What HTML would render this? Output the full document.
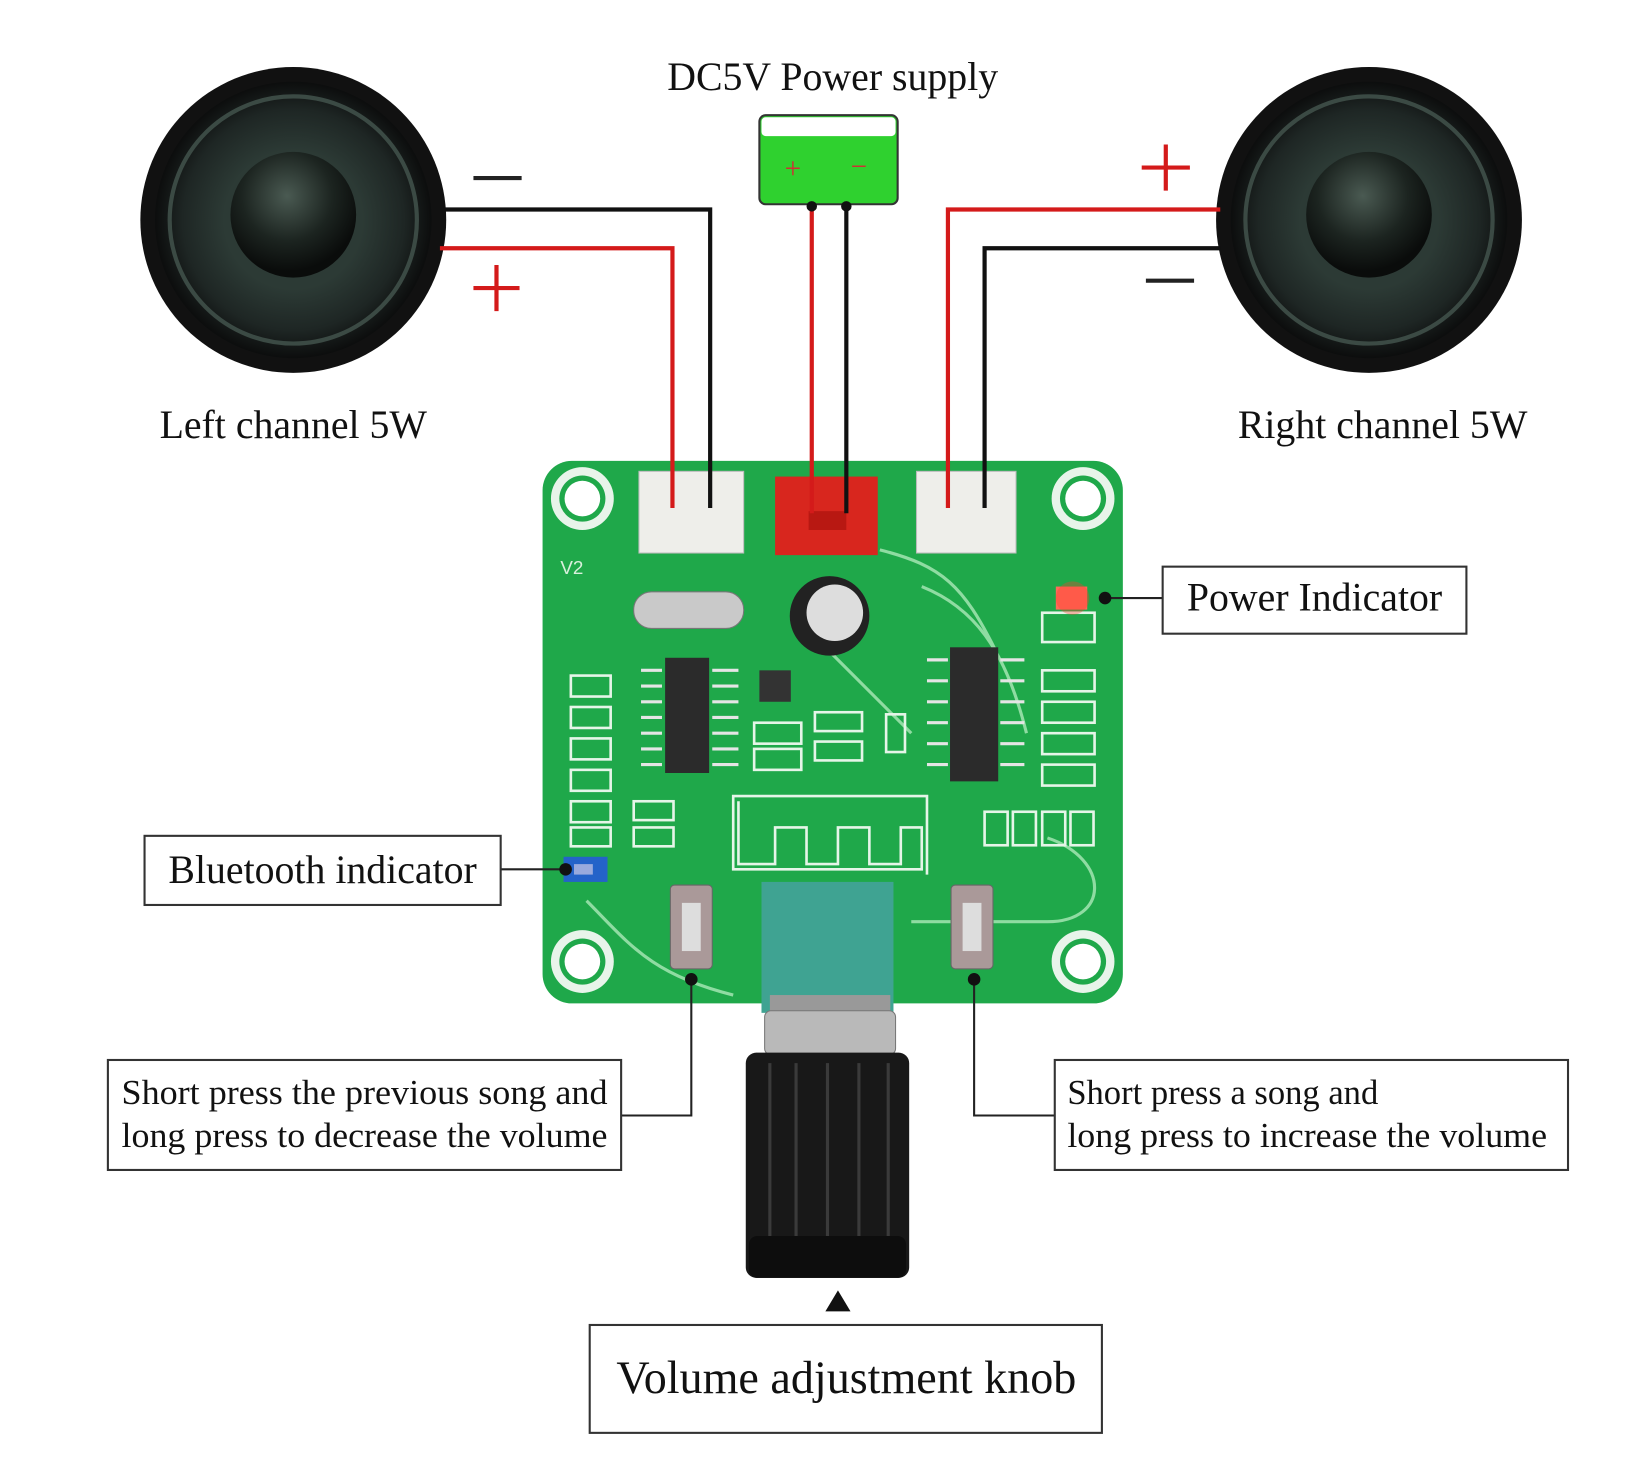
<!DOCTYPE html>
<html><head><meta charset="utf-8"><style>
html,body{margin:0;padding:0;background:#fff;width:1634px;height:1458px;overflow:hidden}
svg{display:block}
text{font-family:"Liberation Serif",serif;fill:#111}
</style></head><body>
<svg width="1634" height="1458" viewBox="0 0 1560 1392" preserveAspectRatio="none" xmlns="http://www.w3.org/2000/svg">
<defs>
<radialGradient id="spk" cx="50%" cy="50%" r="50%">
<stop offset="0" stop-color="#2a3a34"/><stop offset="0.5" stop-color="#2c3a35"/><stop offset="0.8" stop-color="#1e2624"/><stop offset="1" stop-color="#0c0d0d"/>
</radialGradient>
<radialGradient id="dome" cx="45%" cy="35%" r="60%">
<stop offset="0" stop-color="#4a5a52"/><stop offset="0.6" stop-color="#1c2420"/><stop offset="1" stop-color="#0a0c0b"/>
</radialGradient>
</defs>
<rect width="1560" height="1392" fill="#fff"/>

<g>
<circle cx="280" cy="210" r="146" fill="#111"/>
<circle cx="280" cy="210" r="132" fill="url(#spk)"/>
<circle cx="280" cy="210" r="118" fill="none" stroke="#3b4a44" stroke-width="4"/>
<circle cx="280" cy="205" r="60" fill="url(#dome)"/>
<circle cx="1307" cy="210" r="146" fill="#111"/>
<circle cx="1307" cy="210" r="132" fill="url(#spk)"/>
<circle cx="1307" cy="210" r="118" fill="none" stroke="#3b4a44" stroke-width="4"/>
<circle cx="1307" cy="205" r="60" fill="url(#dome)"/>
</g>

<g stroke-width="4">
<line x1="452" y1="170" x2="498" y2="170" stroke="#222"/>
<line x1="452" y1="275" x2="496" y2="275" stroke="#d41a1a"/><line x1="474" y1="253" x2="474" y2="297" stroke="#d41a1a"/>
<line x1="1090" y1="160" x2="1136" y2="160" stroke="#d41a1a"/><line x1="1113" y1="138" x2="1113" y2="182" stroke="#d41a1a"/>
<line x1="1094" y1="268" x2="1140" y2="268" stroke="#222"/>
</g>

<rect x="725" y="110" width="132" height="85" rx="6" fill="#2fd12f" stroke="#333" stroke-width="2"/>
<rect x="727" y="112" width="128" height="18" rx="4" fill="#fff"/>
<text x="757" y="170" font-size="28" text-anchor="middle" style="fill:#c33">+</text>
<text x="820" y="168" font-size="28" text-anchor="middle" style="fill:#c33">−</text>

<rect x="518" y="440" width="554" height="518" rx="28" fill="#1fa84a"/>
<g fill="#e8f4ea">
<circle cx="556" cy="476" r="30"/><circle cx="1034" cy="476" r="30"/><circle cx="556" cy="918" r="30"/><circle cx="1034" cy="918" r="30"/>
</g>
<g fill="#1fa84a"><circle cx="556" cy="476" r="22"/><circle cx="1034" cy="476" r="22"/><circle cx="556" cy="918" r="22"/><circle cx="1034" cy="918" r="22"/></g>
<g fill="#fff"><circle cx="556" cy="476" r="17"/><circle cx="1034" cy="476" r="17"/><circle cx="556" cy="918" r="17"/><circle cx="1034" cy="918" r="17"/></g>
<rect x="610" y="450" width="100" height="78" fill="#eeeeea" stroke="#bbb"/>
<rect x="875" y="450" width="95" height="78" fill="#eeeeea" stroke="#bbb"/>
<rect x="740" y="455" width="98" height="75" fill="#d8261e"/>
<rect x="772" y="488" width="36" height="18" fill="#b81812"/>

<g fill="none" stroke-width="4">
<polyline points="425,200 678,200 678,485" stroke="#111"/>
<polyline points="420,237 642,237 642,485" stroke="#d41a1a"/>
<polyline points="1165,200 905,200 905,485" stroke="#d41a1a"/>
<polyline points="1165,237 940,237 940,485" stroke="#111"/>
<line x1="775" y1="195" x2="775" y2="490" stroke="#d41a1a"/>
<line x1="808" y1="195" x2="808" y2="490" stroke="#111"/>
</g>
<circle cx="775" cy="197" r="5" fill="#111"/><circle cx="808" cy="197" r="5" fill="#111"/>

<g fill="none" stroke="#8fdca2" stroke-width="3">
<path d="M840,525 C900,540 920,560 950,620"/><path d="M880,560 C930,580 960,620 980,700"/><path d="M770,600 L870,700"/>
<path d="M1000,800 C1060,820 1060,880 1000,880 L870,880"/><path d="M560,860 C600,900 620,930 700,950"/>
</g>
<rect x="605" y="565" width="105" height="35" rx="17" fill="#c9c9c9" stroke="#777"/>
<circle cx="792" cy="588" r="38" fill="#222"/><circle cx="797" cy="585" r="27" fill="#ddd"/>
<rect x="635" y="628" width="42" height="110" fill="#2b2b2b"/>
<g stroke="#e5e5e5" stroke-width="3">
<line x1="612" y1="640" x2="632" y2="640"/><line x1="612" y1="655" x2="632" y2="655"/><line x1="612" y1="670" x2="632" y2="670"/><line x1="612" y1="685" x2="632" y2="685"/><line x1="612" y1="700" x2="632" y2="700"/><line x1="612" y1="715" x2="632" y2="715"/><line x1="612" y1="730" x2="632" y2="730"/>
<line x1="680" y1="640" x2="705" y2="640"/><line x1="680" y1="655" x2="705" y2="655"/><line x1="680" y1="670" x2="705" y2="670"/><line x1="680" y1="685" x2="705" y2="685"/><line x1="680" y1="700" x2="705" y2="700"/><line x1="680" y1="715" x2="705" y2="715"/><line x1="680" y1="730" x2="705" y2="730"/>
<line x1="885" y1="630" x2="905" y2="630"/><line x1="885" y1="650" x2="905" y2="650"/><line x1="885" y1="670" x2="905" y2="670"/><line x1="885" y1="690" x2="905" y2="690"/><line x1="885" y1="710" x2="905" y2="710"/><line x1="885" y1="730" x2="905" y2="730"/>
<line x1="955" y1="630" x2="978" y2="630"/><line x1="955" y1="650" x2="978" y2="650"/><line x1="955" y1="670" x2="978" y2="670"/><line x1="955" y1="690" x2="978" y2="690"/><line x1="955" y1="710" x2="978" y2="710"/><line x1="955" y1="730" x2="978" y2="730"/>
</g>
<rect x="907" y="618" width="46" height="128" fill="#2b2b2b"/>
<rect x="725" y="640" width="30" height="30" fill="#333"/>
<g fill="none" stroke="#e5f5e8" stroke-width="2.5">
<rect x="545" y="645" width="38" height="20"/><rect x="545" y="675" width="38" height="20"/><rect x="545" y="705" width="38" height="20"/><rect x="545" y="735" width="38" height="20"/><rect x="545" y="765" width="38" height="20"/><rect x="545" y="790" width="38" height="18"/>
<rect x="605" y="765" width="38" height="18"/><rect x="605" y="790" width="38" height="18"/>
<rect x="720" y="690" width="45" height="20"/><rect x="720" y="715" width="45" height="20"/><rect x="778" y="680" width="45" height="18"/><rect x="778" y="708" width="45" height="18"/><rect x="846" y="682" width="18" height="36"/>
<rect x="995" y="640" width="50" height="20"/><rect x="995" y="670" width="50" height="20"/><rect x="995" y="700" width="50" height="20"/><rect x="995" y="730" width="50" height="20"/>
<rect x="940" y="775" width="22" height="32"/><rect x="967" y="775" width="22" height="32"/><rect x="995" y="775" width="22" height="32"/><rect x="1022" y="775" width="22" height="32"/>
<rect x="995" y="585" width="50" height="28"/>
<polyline points="705,765 705,825 740,825 740,790 770,790 770,825 800,825 800,790 830,790 830,825 860,825 860,790 880,790 880,830 700,830 700,760 885,760 885,835"/>
</g>
<text x="535" y="548" font-size="18" style="fill:#d8f0dc;font-family:'Liberation Sans',sans-serif">V2</text>
<rect x="1008" y="560" width="30" height="22" fill="#ff6a5a"/><circle cx="1024" cy="571" r="16" fill="#ff3b2b" opacity="0.35"/>
<rect x="538" y="818" width="42" height="24" fill="#2463c9"/><rect x="548" y="825" width="18" height="10" fill="#9ad"/>
<rect x="640" y="845" width="40" height="80" rx="4" fill="#a99" stroke="#666"/><rect x="651" y="862" width="18" height="46" fill="#ddd"/>
<rect x="908" y="845" width="40" height="80" rx="4" fill="#a99" stroke="#666"/><rect x="919" y="862" width="18" height="46" fill="#ddd"/>
<rect x="727" y="842" width="126" height="125" fill="#3fa392"/>
<rect x="735" y="950" width="115" height="22" fill="#999"/>
<rect x="730" y="965" width="125" height="42" rx="6" fill="#b9b9b9" stroke="#777"/>
<rect x="712" y="1005" width="156" height="215" rx="10" fill="#181818"/>
<g stroke="#3a3a3a" stroke-width="3"><line x1="735" y1="1015" x2="735" y2="1210"/><line x1="760" y1="1015" x2="760" y2="1210"/><line x1="790" y1="1015" x2="790" y2="1210"/><line x1="820" y1="1015" x2="820" y2="1210"/><line x1="848" y1="1015" x2="848" y2="1210"/></g>
<rect x="715" y="1180" width="150" height="40" rx="8" fill="#0d0d0d"/>
<polygon points="800,1232 788,1252 812,1252" fill="#111"/>

<g stroke="#222" stroke-width="2" fill="none">
<polyline points="1055,571 1110,571"/><polyline points="478,830 540,830"/>
<polyline points="660,935 660,1065 593,1065"/><polyline points="930,935 930,1065 1007,1065"/>
</g>
<g fill="#111"><circle cx="1055" cy="571" r="6"/><circle cx="540" cy="830" r="6"/><circle cx="660" cy="935" r="6"/><circle cx="930" cy="935" r="6"/></g>

<g fill="#fff" stroke="#333" stroke-width="2">
<rect x="1110" y="541" width="290" height="64"/>
<rect x="138" y="798" width="340" height="66"/>
<rect x="103" y="1012" width="490" height="105"/>
<rect x="1007" y="1012" width="490" height="105"/>
<rect x="563" y="1265" width="489" height="103"/>
</g>

<text x="795" y="86" font-size="38" text-anchor="middle">DC5V Power supply</text>
<text x="280" y="418" font-size="38" text-anchor="middle">Left channel 5W</text>
<text x="1320" y="418" font-size="38" text-anchor="middle">Right channel 5W</text>
<text x="1255" y="583" font-size="38" text-anchor="middle">Power Indicator</text>
<text x="308" y="843" font-size="38" text-anchor="middle">Bluetooth indicator</text>
<text x="116" y="1054" font-size="33" textLength="464" lengthAdjust="spacingAndGlyphs">Short press the previous song and</text>
<text x="116" y="1095" font-size="33" textLength="464" lengthAdjust="spacingAndGlyphs">long press to decrease the volume</text>
<text x="1019" y="1054" font-size="33">Short press a song and</text>
<text x="1019" y="1095" font-size="33" textLength="458" lengthAdjust="spacingAndGlyphs">long press to increase the volume</text>
<text x="808" y="1330" font-size="44" text-anchor="middle">Volume adjustment knob</text>
</svg>
</body></html>
